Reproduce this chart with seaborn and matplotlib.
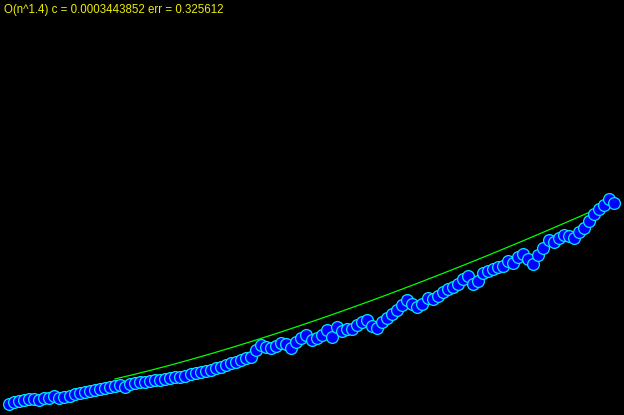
import numpy as np
import pandas as pd
import matplotlib
matplotlib.use("Agg")
import matplotlib.pyplot as plt
import seaborn as sns

sizes = list(range(2, 123))  # 121 measurements
# pixel rows read off the picture, converted to values below (value = 398 - row)
rows = [404, 402, 401, 400, 399, 399, 400, 398, 398, 396,
        398, 397, 396, 394, 393, 392, 391, 390, 389, 388,
        387, 386, 385, 387, 384, 383, 382, 382, 381, 380,
        380, 379, 378, 377, 377, 376, 374, 373, 372, 371,
        370, 368, 367, 365, 363, 362, 360, 358, 357, 350,
        345, 347, 348, 346, 343, 344, 348, 342, 338, 335,
        340, 338, 335, 330, 337, 327, 331, 329, 329, 325,
        322, 320, 326, 328, 322, 318, 314, 310, 305, 300,
        304, 307, 304, 298, 299, 296, 292, 289, 287, 284,
        279, 276, 284, 281, 273, 271, 269, 267, 266, 261,
        263, 257, 254, 259, 264, 255, 248, 240, 242, 238,
        235, 236, 238, 232, 228, 221, 214, 209, 205, 199,
        203]
times = [398 - r for r in rows]

fit_exponent = 1.4
fit_coef = 0.236
fit_range = (23.0, 117.2)
title = "O(n^1.4) c = 0.0003443852 err = 0.325612"

df = pd.DataFrame({"n": sizes, "t": times})
fit_n = np.linspace(fit_range[0], fit_range[1], 300)
fit_df = pd.DataFrame({"n": fit_n, "t": fit_coef * fit_n ** fit_exponent})

sns.set_theme(style="dark")
fig = plt.figure(figsize=(6.24, 4.15), dpi=100, facecolor="black")
ax = fig.add_axes([0, 0, 1, 1])
ax.set_facecolor("black")

sns.lineplot(data=fit_df, x="n", y="t", ax=ax, color="#00ff00", linewidth=0.9, zorder=2)
sns.scatterplot(data=df, x="n", y="t", ax=ax, color="#0000ff", edgecolor="#00e8ff",
                linewidth=0.9, s=72, zorder=3)

ax.set_xlim(0.215, 123.97)
ax.set_ylim(-17, 398)
ax.set_axis_off()

fig.text(4 / 624, 1 - 13.5 / 415, title, color="#eeee00", fontsize=8.3,
         family="Liberation Sans", ha="left", va="baseline")

fig.savefig("out.png", dpi=100, facecolor="black")
